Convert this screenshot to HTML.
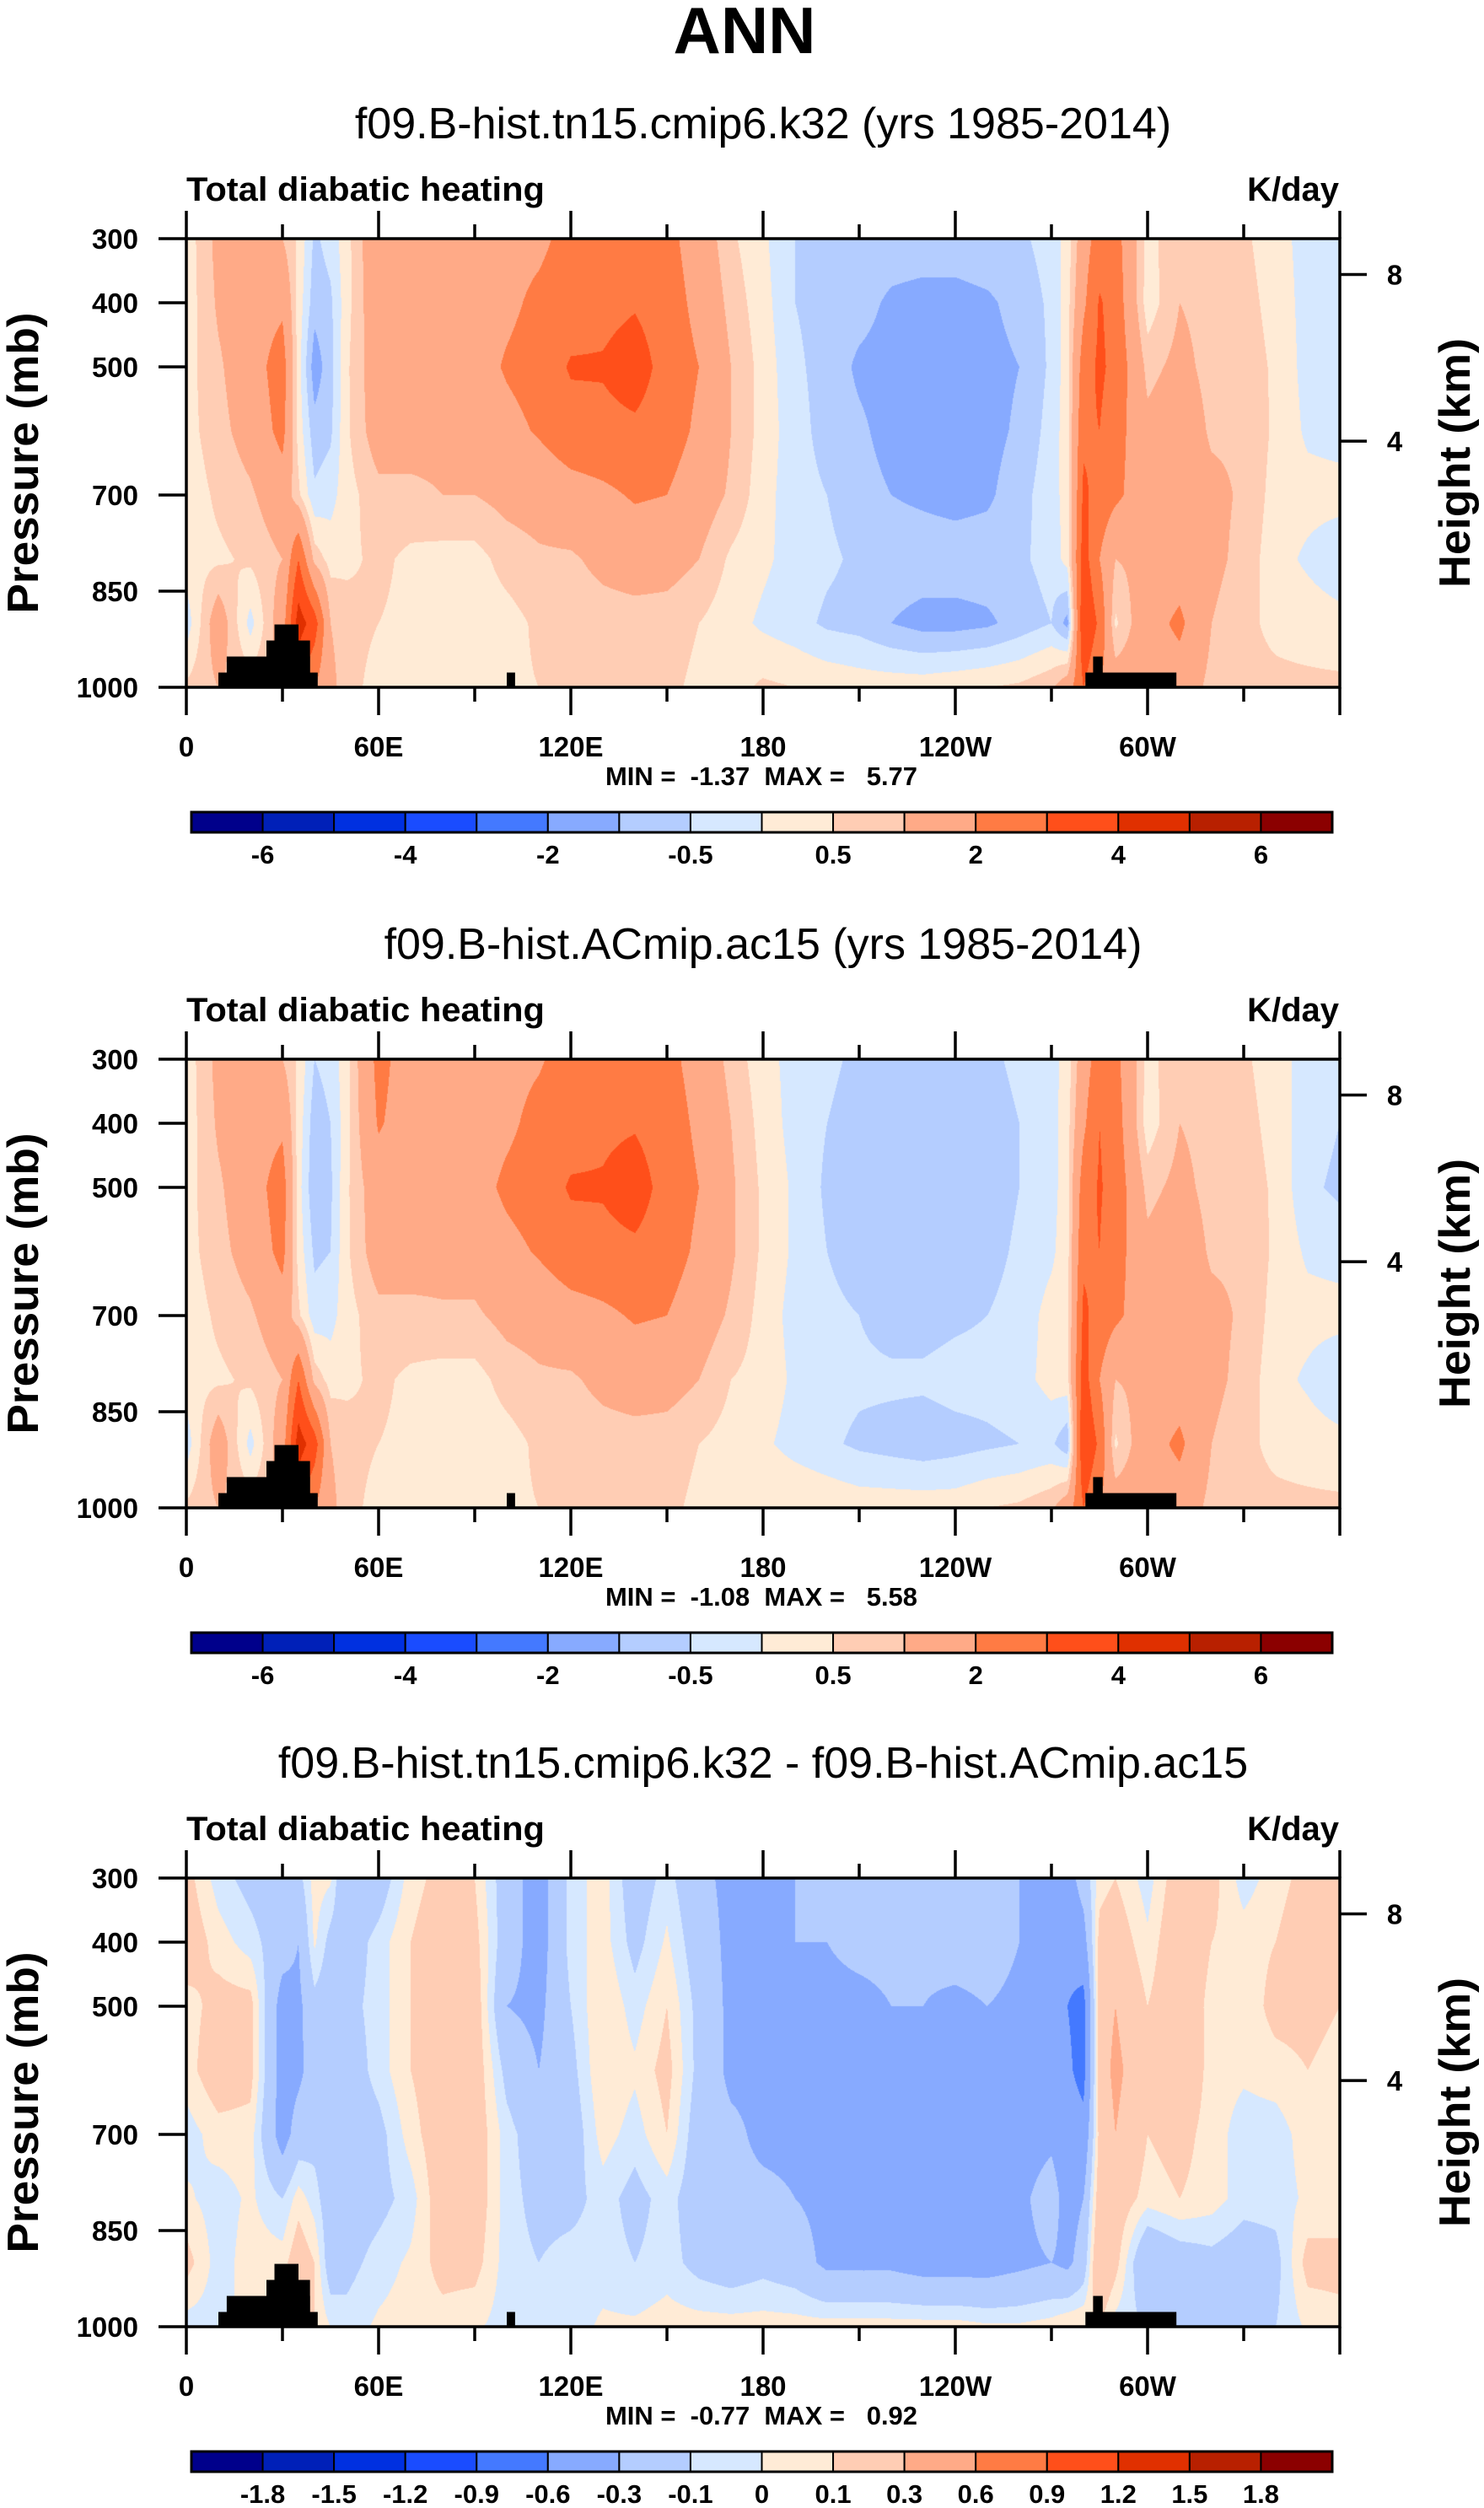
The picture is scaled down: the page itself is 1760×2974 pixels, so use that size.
<!DOCTYPE html>
<html><head><meta charset="utf-8">
<style>
html,body{margin:0;padding:0;background:#fff;}
body{width:1760px;height:2974px;position:relative;overflow:hidden;font-family:"Liberation Sans",sans-serif;}
canvas{position:absolute;}
svg{position:absolute;left:0;top:0;}
</style></head>
<body>
<canvas id="c0"></canvas>
<canvas id="c1"></canvas>
<canvas id="c2"></canvas>
<svg id="ov" width="1760" height="2974"></svg>
<script>
const lons=[0,10,20,30,35,40,45,50,60,70,80,90,100,110,120,130,140,150,160,170,180,190,200,210,220,230,240,250,260,270,275,280,285,290,300,310,320,330,340,350,360];
const levels=[300,400,500,600,700,800,900,1000];
const fieldCtl=[
[0.2,0.2,0.3,0.3,0.2,0.3,-0.3,0.6],
[1.2,1.1,0.9,0.8,0.6,0.4,1.5,1.0],
[1.5,1.5,1.5,1.3,0.9,0.6,-0.2,0.8],
[1.0,1.8,2.5,2.3,1.5,1.0,1.5,1.0],
[0.4,0.3,0.2,0.3,0.6,3.0,4.5,3.0],
[-0.6,-0.8,-1.3,-0.8,-0.4,0.8,3.5,2.0],
[-0.3,-0.6,-0.7,-0.6,-0.2,0.3,1.0,1.2],
[0.3,0.3,0.4,0.4,0.3,0.4,0.7,0.7],
[1.7,1.6,1.5,1.4,0.8,0.6,0.5,0.3],
[1.5,1.5,1.5,1.4,0.8,0.4,0.4,0.3],
[1.5,1.5,1.5,1.3,1.0,0.3,0.3,0.2],
[1.5,1.5,1.6,1.3,1.0,0.3,0.2,0.2],
[1.7,1.8,2.1,1.7,1.2,0.7,0.3,0.4],
[1.8,2.2,2.4,2.1,1.3,0.9,0.6,0.5],
[2.3,2.5,3.1,2.6,1.6,0.9,0.6,0.6],
[2.5,2.7,3.1,2.7,1.8,1.2,0.7,0.6],
[2.6,2.9,3.5,2.8,2.1,1.4,0.7,0.6],
[2.3,2.5,2.6,2.5,2.0,1.3,0.7,0.6],
[1.5,1.7,2.0,1.8,1.4,1.0,0.5,0.4],
[0.6,0.8,1.0,1.0,0.9,0.4,0.2,0.3],
[0.1,0.2,0.3,0.3,0.2,0.1,-0.1,0.6],
[-0.5,-0.5,-0.4,-0.3,-0.3,-0.2,-0.3,0.5],
[-0.6,-0.7,-0.7,-0.7,-0.5,-0.4,-0.6,0.4],
[-0.6,-0.8,-1.1,-0.9,-0.8,-0.6,-0.7,0.3],
[-0.7,-1.1,-1.2,-1.2,-1.0,-0.7,-1.0,0.3],
[-0.7,-1.2,-1.3,-1.3,-1.1,-0.7,-1.2,0.3],
[-0.7,-1.2,-1.3,-1.3,-1.2,-0.7,-1.2,0.4],
[-0.6,-1.1,-1.2,-1.2,-1.1,-0.7,-1.1,0.5],
[-0.6,-0.8,-1.0,-0.9,-0.7,-0.6,-0.8,0.6],
[-0.3,-0.4,-0.4,-0.3,-0.2,-0.3,-0.5,0.9],
[0.2,0.3,0.3,0.3,0.2,0.2,-1.2,1.5],
[1.5,1.8,2.5,2.8,3.2,3.5,4.0,3.0],
[2.5,3.1,3.2,3.0,2.6,2.0,2.8,2.0],
[2.4,2.6,2.7,2.4,2.2,1.0,0.4,1.5],
[0.3,0.2,0.8,1.2,1.4,1.2,1.6,1.4],
[0.9,1.0,1.2,1.5,1.3,1.5,2.2,1.5],
[0.7,0.8,0.8,0.9,1.2,1.2,1.0,0.8],
[0.6,0.7,0.8,0.9,0.9,0.8,0.6,0.6],
[0.2,0.3,0.4,0.4,0.3,0.2,0.4,0.6],
[-0.2,-0.2,-0.2,-0.1,0.2,-0.1,0.3,0.6],
[-0.3,-0.4,-0.3,-0.2,0.2,-0.4,0.2,0.6]];
const fieldExp=[
[0.2,0.2,0.3,0.3,0.2,0.3,-0.3,0.6],
[1.2,1.1,0.9,0.8,0.6,0.4,1.5,1.0],
[1.5,1.5,1.5,1.3,0.9,0.6,-0.2,0.8],
[1.0,1.8,2.5,2.3,1.5,1.0,1.5,1.0],
[0.4,0.3,0.2,0.3,0.6,3.0,4.5,3.0],
[-0.5,-0.8,-0.9,-0.6,-0.3,0.8,3.5,2.0],
[-0.3,-0.5,-0.6,-0.5,-0.2,0.3,1.0,1.2],
[0.3,0.3,0.4,0.4,0.3,0.4,0.7,0.7],
[2.3,2.1,1.5,1.4,0.8,0.6,0.5,0.3],
[1.5,1.5,1.5,1.4,0.8,0.4,0.4,0.3],
[1.5,1.5,1.5,1.3,0.9,0.3,0.3,0.2],
[1.5,1.5,1.6,1.3,0.9,0.3,0.2,0.2],
[1.7,1.8,2.2,1.7,1.2,0.7,0.3,0.4],
[1.9,2.3,2.5,2.1,1.3,0.9,0.6,0.5],
[2.4,2.6,3.1,2.6,1.6,0.9,0.6,0.6],
[2.5,2.8,3.1,2.7,1.8,1.2,0.7,0.6],
[2.6,2.9,3.5,2.8,2.1,1.4,0.7,0.6],
[2.3,2.5,2.6,2.5,2.0,1.3,0.7,0.6],
[1.6,1.8,2.0,1.8,1.4,1.0,0.5,0.4],
[0.8,1.0,1.1,1.1,0.9,0.5,0.3,0.3],
[0.2,0.3,0.4,0.4,0.3,0.3,0.1,0.5],
[-0.2,-0.2,-0.1,-0.1,-0.2,-0.1,-0.2,0.5],
[-0.4,-0.5,-0.6,-0.5,-0.4,-0.3,-0.4,0.4],
[-0.6,-0.7,-0.7,-0.7,-0.5,-0.4,-0.6,0.3],
[-0.7,-0.8,-0.8,-0.8,-0.7,-0.4,-0.7,0.3],
[-0.7,-0.8,-0.9,-0.9,-0.7,-0.4,-0.8,0.3],
[-0.7,-0.8,-0.9,-0.8,-0.6,-0.3,-0.7,0.3],
[-0.6,-0.7,-0.8,-0.7,-0.5,-0.3,-0.6,0.5],
[-0.4,-0.5,-0.5,-0.4,-0.3,-0.2,-0.5,0.6],
[-0.2,-0.2,-0.2,-0.1,0.2,0.2,-0.4,0.9],
[0.2,0.3,0.3,0.3,0.3,0.3,-0.9,1.5],
[1.5,1.8,2.5,2.8,3.2,3.5,4.0,3.0],
[2.5,3.0,3.1,3.0,2.6,2.0,2.8,2.0],
[2.3,2.5,2.6,2.4,2.2,1.0,0.4,1.5],
[0.3,0.2,0.8,1.2,1.4,1.2,1.6,1.4],
[0.9,1.0,1.2,1.5,1.3,1.5,2.2,1.5],
[0.7,0.8,0.8,0.9,1.2,1.2,1.0,0.8],
[0.6,0.7,0.8,0.9,0.9,0.8,0.6,0.6],
[0.2,0.3,0.4,0.4,0.3,0.2,0.4,0.6],
[-0.2,-0.3,-0.4,-0.1,0.2,-0.1,0.3,0.6],
[-0.3,-0.5,-0.6,-0.2,0.2,-0.5,0.2,0.6]];
const fieldDiff=[
[0.15,0.2,0.05,0.05,-0.05,0.02,0.15,-0.05],
[-0.05,0.05,0.15,0.2,0.05,-0.05,-0.05,-0.05],
[-0.15,-0.05,0.15,0.15,0.05,0.02,0.05,0.05],
[-0.2,-0.2,-0.4,-0.4,-0.4,-0.1,0.05,0],
[-0.15,-0.3,-0.35,-0.35,-0.2,0.05,0.2,0.1],
[0.05,0.02,-0.15,-0.2,-0.15,-0.05,0.1,0.1],
[0.02,-0.15,-0.2,-0.2,-0.2,-0.2,-0.2,0],
[-0.3,-0.2,-0.15,-0.2,-0.2,-0.2,-0.15,-0.05],
[-0.2,-0.05,-0.05,-0.05,-0.15,-0.15,-0.05,0.02],
[0.05,0.1,0.1,0.1,0.05,-0.05,0.02,0.05],
[0.15,0.2,0.2,0.2,0.2,0.2,0.15,0.05],
[0.1,0.15,0.2,0.2,0.2,0.2,0.15,0.02],
[-0.2,-0.2,-0.3,-0.15,-0.05,-0.05,-0.05,-0.05],
[-0.4,-0.4,-0.35,-0.3,-0.2,-0.15,-0.1,-0.05],
[-0.05,-0.05,-0.1,-0.15,-0.2,-0.15,-0.05,-0.05],
[0.05,0.05,0.1,0.1,0.05,-0.05,-0.05,0.02],
[-0.2,-0.15,-0.05,0.02,-0.05,-0.15,-0.1,0.02],
[-0.05,0.02,0.1,0.15,0.1,-0.05,-0.05,0.05],
[-0.25,-0.2,-0.15,-0.15,-0.2,-0.2,-0.15,0.05],
[-0.35,-0.35,-0.35,-0.35,-0.25,-0.25,-0.2,0.05],
[-0.35,-0.35,-0.35,-0.35,-0.35,-0.25,-0.15,0.05],
[-0.3,-0.3,-0.35,-0.35,-0.35,-0.3,-0.2,0.05],
[-0.25,-0.3,-0.35,-0.35,-0.3,-0.35,-0.35,0.05],
[-0.25,-0.25,-0.35,-0.4,-0.4,-0.3,-0.35,0.05],
[-0.2,-0.25,-0.3,-0.4,-0.4,-0.3,-0.35,0.05],
[-0.2,-0.25,-0.3,-0.4,-0.4,-0.4,-0.4,0.05],
[-0.2,-0.2,-0.35,-0.4,-0.4,-0.4,-0.4,0.05],
[-0.2,-0.2,-0.3,-0.4,-0.4,-0.4,-0.4,0.02],
[-0.3,-0.3,-0.35,-0.4,-0.4,-0.35,-0.35,0.02],
[-0.35,-0.35,-0.4,-0.4,-0.35,-0.2,-0.3,0.05],
[-0.4,-0.5,-0.6,-0.55,-0.45,-0.4,-0.35,0.1],
[-0.2,-0.4,-0.7,-0.7,-0.5,-0.3,-0.2,0.1],
[0.05,0.15,0.2,0.2,0.15,0.2,0.3,0.1],
[0.1,0.2,0.3,0.35,0.3,0.2,0.15,-0.05],
[-0.05,0.02,0.1,0.15,0.1,0.05,-0.3,-0.1],
[0.2,0.25,0.25,0.25,0.15,0.1,-0.2,-0.2],
[0.15,0.1,0.05,0.05,0.05,0.05,-0.15,-0.1],
[-0.05,0.05,0.02,0.02,-0.05,-0.05,-0.2,-0.15],
[0.05,0.1,0.15,0.05,-0.05,-0.05,-0.15,-0.1],
[0.15,0.2,0.15,0.1,0.05,0.02,0.15,0.02],
[0.1,0.15,0.1,0.05,0.02,0.02,0.15,0.05]];
const contourAbs=[-6,-5,-4,-3,-2,-1,-0.5,0,0.5,1,2,3,4,5,6];
const contourDiff=[-1.8,-1.5,-1.2,-0.9,-0.6,-0.3,-0.1,0,0.1,0.3,0.6,0.9,1.2,1.5,1.8];
const labelsAbs=["-6","","-4","","-2","","-0.5","","0.5","","2","","4","","6"];
const labelsDiff=["-1.8","-1.5","-1.2","-0.9","-0.6","-0.3","-0.1","0","0.1","0.3","0.6","0.9","1.2","1.5","1.8"];
const minVals=["-1.37","-1.08","-0.77"];
const maxVals=["5.77","5.58","0.92"];
const titles=["f09.B-hist.tn15.cmip6.k32 (yrs 1985-2014)","f09.B-hist.ACmip.ac15 (yrs 1985-2014)","f09.B-hist.tn15.cmip6.k32 - f09.B-hist.ACmip.ac15"];
const topo=[[10,41,977],[12.6,38.6,952],[25,38.6,927],[27.5,35,902],[100,102.6,977],[280.6,309,977],[283,286,952]];
const xTickVals=[0,60,120,180,240,300];
const xTickLabels=["0","60E","120E","180","120W","60W"];
const yTickVals=[300,400,500,700,850,1000];
const hTickVals=[8,4];
const hTickP=[356,616];
const colors=["#00008b","#0020b8","#0030e0","#1a4cff","#4479ff","#87aaff","#b4cdff","#d6e8ff","#ffebd6","#ffcdb4","#ffaa87","#ff7b44","#ff4f1a","#e03000","#b82000","#8b0000"];

const PL=221,PW=1368,PT=283,PH=532;
const offs=[0,973,1944];
const NS="http://www.w3.org/2000/svg";
const ov=document.getElementById('ov');
function xL(l){return PL+l/360*PW;}
function yP(p,dy){return PT+dy+(p-300)/700*PH;}
function mk(tag,attrs,parent){const e=document.createElementNS(NS,tag);for(const k in attrs)e.setAttribute(k,attrs[k]);(parent||ov).appendChild(e);return e;}
function txt(s,attrs,parent){const e=mk('text',attrs,parent);e.textContent=s;return e;}
function hex(c){return [parseInt(c.substr(1,2),16),parseInt(c.substr(3,2),16),parseInt(c.substr(5,2),16)];}
const rgb=colors.map(hex);
function sample(f,lon,p){
  let i=0;while(i<lons.length-2&&lon>lons[i+1])i++;
  let j=0;while(j<levels.length-2&&p>levels[j+1])j++;
  const tx=(lon-lons[i])/(lons[i+1]-lons[i]),ty=(p-levels[j])/(levels[j+1]-levels[j]);
  const a=f[i][j],b=f[i+1][j],c=f[i][j+1],d=f[i+1][j+1];
  return (a*(1-tx)+b*tx)*(1-ty)+(c*(1-tx)+d*tx)*ty;
}
function bin(v,lv){let k=0;while(k<lv.length&&v>=lv[k])k++;return k;}

const t=txt("ANN",{x:883,y:63,'text-anchor':'middle','font-size':78,'font-weight':'bold','font-family':'Liberation Sans, sans-serif'});



const fields=[fieldCtl,fieldExp,fieldDiff];
const lvls=[contourAbs,contourAbs,contourDiff];
const labs=[labelsAbs,labelsAbs,labelsDiff];
for(let k=0;k<3;k++){
  const dy=offs[k],f=fields[k],lv=lvls[k];
  const cv=document.getElementById('c'+k);
  cv.width=PW;cv.height=PH;cv.style.left=PL+'px';cv.style.top=(PT+dy)+'px';
  const ctx=cv.getContext('2d');const im=ctx.createImageData(PW,PH);
  for(let y=0;y<PH;y++){const p=300+(y+0.5)/PH*700;
    for(let x=0;x<PW;x++){const lon=(x+0.5)/PW*360;
      const c=rgb[bin(sample(f,lon,p),lv)];const o=(y*PW+x)*4;
      im.data[o]=c[0];im.data[o+1]=c[1];im.data[o+2]=c[2];im.data[o+3]=255;}}
  ctx.putImageData(im,0,0);
  const g=mk('g',{});
  
  
  const st=txt(titles[k],{x:905,y:164+dy,'text-anchor':'middle','font-size':52,'font-family':'Liberation Sans, sans-serif'},g);
  
  
  const lt=txt("Total diabatic heating",{x:221,y:238+dy,'font-size':40,'font-weight':'bold','font-family':'Liberation Sans, sans-serif',textLength:425,lengthAdjust:'spacingAndGlyphs'},g);
  
  
  const ut=txt("K/day",{x:1588,y:238+dy,'text-anchor':'end','font-size':40,'font-weight':'bold','font-family':'Liberation Sans, sans-serif'},g);
  
  
  for(const tp of topo){
    const r=mk('rect',{x:xL(tp[0]),y:yP(tp[2],dy),width:xL(tp[1])-xL(tp[0]),height:yP(1000,dy)-yP(tp[2],dy),fill:'#000'},g);
    
    
  }
  const fr=mk('rect',{x:PL,y:PT+dy,width:PW,height:PH,fill:'none',stroke:'#000','stroke-width':3.5},g);
  
  
  for(let l=0;l<=360;l+=30){const maj=l%60===0;const len=maj?33:17;const x=xL(l);
    mk('line',{x1:x,x2:x,y1:PT+dy,y2:PT+dy-len,stroke:'#000','stroke-width':3.5},g);
    mk('line',{x1:x,x2:x,y1:PT+dy+PH,y2:PT+dy+PH+len,stroke:'#000','stroke-width':3.5},g);}
  xTickVals.forEach((l,i)=>{const e=txt(xTickLabels[i],{x:xL(l),y:897+dy,'text-anchor':'middle','font-size':33,'font-weight':'bold','font-family':'Liberation Sans, sans-serif'},g);
    
    });
  yTickVals.forEach(p=>{const y=yP(p,dy);
    mk('line',{x1:PL-33,x2:PL,y1:y,y2:y,stroke:'#000','stroke-width':3.5},g);
    const e=txt(String(p),{x:164,y:y+12,'text-anchor':'end','font-size':33,'font-weight':'bold','font-family':'Liberation Sans, sans-serif'},g);
    
    });
  hTickVals.forEach((h,i)=>{const y=yP(hTickP[i],dy);
    mk('line',{x1:PL+PW,x2:PL+PW+32,y1:y,y2:y,stroke:'#000','stroke-width':3.5},g);
    const e=txt(String(h),{x:1654,y:y+12,'text-anchor':'middle','font-size':33,'font-weight':'bold','font-family':'Liberation Sans, sans-serif'},g);
    
    });
  const cy=PT+dy+PH/2;
  const ya=txt("Pressure (mb)",{x:0,y:0,transform:`translate(45,${cy}) rotate(-90)`,'text-anchor':'middle','font-size':52,'font-weight':'bold','font-family':'Liberation Sans, sans-serif',textLength:357,lengthAdjust:'spacingAndGlyphs'},g);
  
  
  const ha=txt("Height (km)",{x:0,y:0,transform:`translate(1743,${cy}) rotate(-90)`,'text-anchor':'middle','font-size':52,'font-weight':'bold','font-family':'Liberation Sans, sans-serif',textLength:296,lengthAdjust:'spacingAndGlyphs'},g);
  
  
  const mm=txt(`MIN =  ${minVals[k]}  MAX =   ${maxVals[k]}`,{x:903,y:931+dy,'text-anchor':'middle','font-size':31,'font-weight':'bold','font-family':'Liberation Sans, sans-serif',textLength:370,lengthAdjust:'spacingAndGlyphs',style:'white-space:pre'},g);
  
  
  const CX=227,CW=1353,CY=963+dy,CH=24,bw=CW/16;
  for(let b=0;b<16;b++){const r=mk('rect',{x:CX+b*bw,y:CY,width:bw,height:CH,fill:colors[b],stroke:'#000','stroke-width':2},g);
    
    }
  mk('rect',{x:CX,y:CY,width:CW,height:CH,fill:'none',stroke:'#000','stroke-width':3},g);
  labs[k].forEach((s,i)=>{if(!s)return;const e=txt(s,{x:CX+(i+1)*bw,y:1024+dy,'text-anchor':'middle','font-size':31,'font-weight':'bold','font-family':'Liberation Sans, sans-serif'},g);
    
    });
}
</script>
</body></html>
